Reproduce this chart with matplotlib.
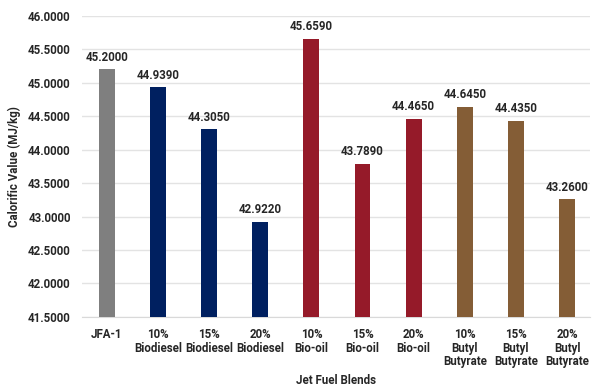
import matplotlib.pyplot as plt

blends = ['JFA-1', '10%\nBiodiesel', '15%\nBiodiesel', '20%\nBiodiesel',
          '10%\nBio-oil', '15%\nBio-oil', '20%\nBio-oil',
          '10%\nButyl\nButyrate', '15%\nButyl\nButyrate', '20%\nButyl\nButyrate']
values = [45.2000, 44.9390, 44.3050, 42.9220, 45.6590, 43.7890, 44.4650,
          44.6450, 44.4350, 43.2600]
colors = ['#7f7f7f'] + ['#002060'] * 3 + ['#951a29'] * 3 + ['#845d36'] * 3

plt.rcParams['font.family'] = ['Roboto', 'DejaVu Sans']
plt.rcParams['font.weight'] = 'bold'

fig = plt.figure(figsize=(5.93, 3.87), dpi=100)
ax = fig.add_axes([0.138, 0.181, 0.857, 0.778])

x = range(len(blends))
bars = ax.bar(x, [v - 41.5 for v in values], bottom=41.5, width=0.31, color=colors, zorder=3)
for xi, v in zip(x, values):
    ax.text(xi, v + 0.08, f'{v:.4f}', ha='center', va='bottom', fontsize=8.3,
            fontweight='bold', color='#262626')

ax.set_ylim(41.5, 46.0)
ax.set_xlim(-0.49, 9.45)
ax.set_yticks([41.5 + 0.5 * i for i in range(10)])
ax.set_yticklabels([f'{41.5 + 0.5 * i:.4f}' for i in range(10)])
ax.set_xticks(list(x))
ax.set_xticklabels(blends, va='top', linespacing=1.05)
ax.tick_params(axis='both', length=0, labelsize=8.3, colors='#262626', pad=8)
ax.tick_params(axis='x', pad=8)
for lbl in ax.get_xticklabels() + ax.get_yticklabels():
    lbl.set_fontweight('bold')
ax.grid(axis='y', color='#e3e3e3', linewidth=1, zorder=0)
for s in ['top', 'right', 'left']:
    ax.spines[s].set_visible(False)
ax.spines['bottom'].set_color('#d9d9d9')

fig.text(0.567, 0.018, 'Jet Fuel Blends', ha='center', va='center', fontsize=8.3,
         fontweight='bold', color='#262626')
ax.set_ylabel('Calorific Value (MJ/kg)', fontsize=8.3, fontweight='bold', color='#262626', labelpad=5)

fig.savefig('out.png', dpi=100)
